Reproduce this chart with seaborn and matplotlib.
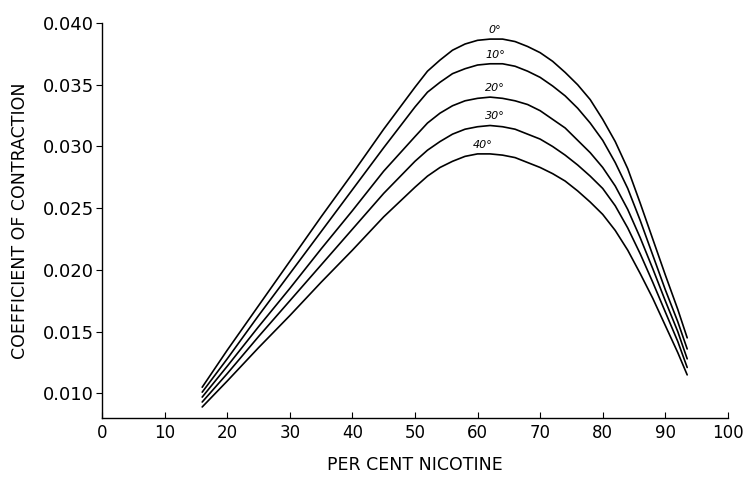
import numpy as np
import pandas as pd
import matplotlib
matplotlib.use("Agg")
import matplotlib.pyplot as plt
import seaborn as sns

# per cent nicotine, read at the same points for every curve
nicotine = [16, 20, 25, 30, 35, 40, 45, 50, 52, 54, 56, 58, 60, 62, 64,
            66, 68, 70, 72, 74, 76, 78, 80, 82, 84, 86, 88, 90, 92, 93.5]

# coefficient of contraction, one list per temperature
coef_0 = [0.0105, 0.0135, 0.0171, 0.0207, 0.0243, 0.0278, 0.0314, 0.0348,
          0.0361, 0.0370, 0.0378, 0.0383, 0.0386, 0.0387, 0.0387, 0.0385,
          0.0381, 0.0376, 0.0369, 0.0360, 0.0350, 0.0338, 0.0322, 0.0304,
          0.0282, 0.0254, 0.0225, 0.0196, 0.0168, 0.0145]
coef_10 = [0.0101, 0.0128, 0.0163, 0.0197, 0.0231, 0.0265, 0.0299, 0.0332,
           0.0344, 0.0352, 0.0359, 0.0363, 0.0366, 0.0367, 0.0367, 0.0365,
           0.0361, 0.0356, 0.0349, 0.0341, 0.0331, 0.0319, 0.0305, 0.0287,
           0.0266, 0.0240, 0.0212, 0.0184, 0.0158, 0.0136]
coef_20 = [0.0097, 0.0122, 0.0154, 0.0185, 0.0217, 0.0248, 0.0280, 0.0308,
           0.0319, 0.0327, 0.0333, 0.0337, 0.0339, 0.0340, 0.0339, 0.0337,
           0.0334, 0.0329, 0.0322, 0.0315, 0.0305, 0.0295, 0.0283, 0.0268,
           0.0249, 0.0226, 0.0201, 0.0175, 0.0150, 0.0128]
coef_30 = [0.0093, 0.0116, 0.0146, 0.0175, 0.0204, 0.0233, 0.0262, 0.0288,
           0.0297, 0.0304, 0.0310, 0.0314, 0.0316, 0.0317, 0.0316, 0.0314,
           0.0310, 0.0306, 0.0300, 0.0293, 0.0285, 0.0276, 0.0266, 0.0252,
           0.0234, 0.0213, 0.0190, 0.0166, 0.0142, 0.0121]
coef_40 = [0.0089, 0.0110, 0.0137, 0.0163, 0.0190, 0.0216, 0.0243, 0.0267,
           0.0276, 0.0283, 0.0288, 0.0292, 0.0294, 0.0294, 0.0293, 0.0291,
           0.0287, 0.0283, 0.0278, 0.0272, 0.0264, 0.0255, 0.0245, 0.0232,
           0.0216, 0.0197, 0.0177, 0.0155, 0.0133, 0.0115]

temps = ["0°", "10°", "20°", "30°", "40°"]
series = [coef_0, coef_10, coef_20, coef_30, coef_40]

x_ticks = [0, 10, 20, 30, 40, 50, 60, 70, 80, 90, 100]
y_ticks = [0.010, 0.015, 0.020, 0.025, 0.030, 0.035, 0.040]

df = pd.concat([pd.DataFrame({"nicotine": nicotine, "coef": s, "temp": t})
                for t, s in zip(temps, series)], ignore_index=True)

sns.set_style("ticks", {"axes.edgecolor": "black", "text.color": "black",
                        "axes.labelcolor": "black", "xtick.color": "black",
                        "ytick.color": "black"})
plt.rcParams["font.family"] = ["DejaVu Sans"]

fig = plt.figure(figsize=(7.45, 4.8), dpi=100)
ax = fig.add_axes([0.137, 0.129, 0.840, 0.823])

sns.lineplot(data=df, x="nicotine", y="coef", hue="temp", hue_order=temps,
             palette=["black"] * len(temps), linewidth=1.2, legend=False,
             sort=False, ax=ax)

# temperature labels just above each peak
for t, s in zip(temps, series):
    i = int(np.argmax(s))
    ax.annotate(t, (nicotine[i] + 0.8, s[i]), xytext=(0, 3),
                textcoords="offset points", ha="center", va="bottom",
                fontsize=8, style="italic")

ax.set_xlim(0, 100)
ax.set_ylim(0.008, 0.040)
ax.set_xticks(x_ticks)
ax.set_yticks(y_ticks)
ax.set_yticklabels([f"{v:.3f}" for v in y_ticks])
ax.tick_params(axis="x", direction="in", length=4, width=0.8, pad=4,
               labelsize=12)
ax.tick_params(axis="y", direction="out", length=4, width=0.8, pad=2,
               labelsize=13)
sns.despine(ax=ax)
for sp in ("left", "bottom"):
    ax.spines[sp].set_linewidth(1.0)

ax.set_xlabel("PER CENT NICOTINE", fontsize=12.5, labelpad=10)
ax.set_ylabel("COEFFICIENT OF CONTRACTION", fontsize=12.5, labelpad=10)

fig.savefig("out.png", dpi=100)
